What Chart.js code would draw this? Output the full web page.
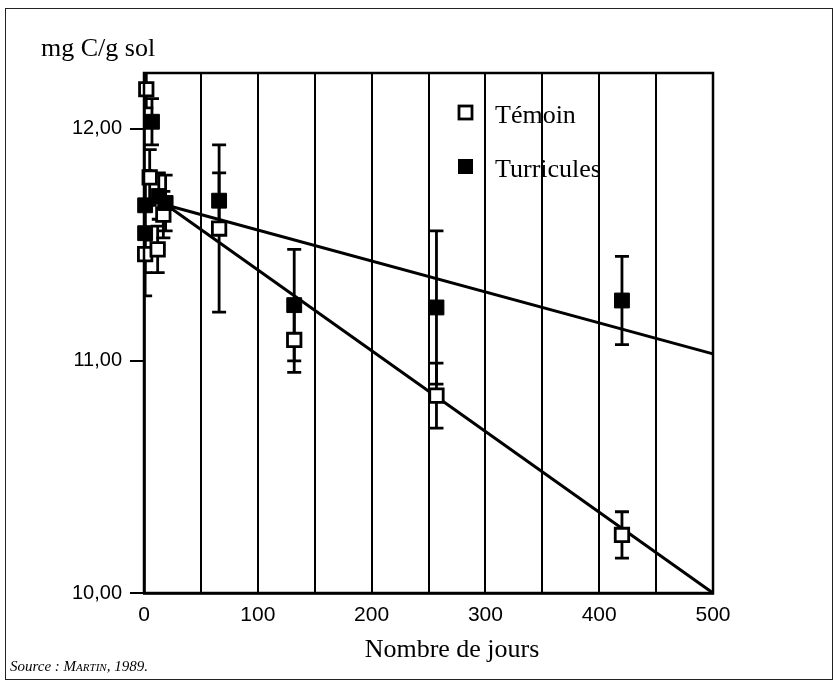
<!DOCTYPE html>
<html>
<head>
<meta charset="utf-8">
<script src="https://cdn.jsdelivr.net/npm/chart.js@4.4.1/dist/chart.umd.min.js"></script>
<style>
html, body { margin: 0; background: #fff; }
#cadre { position: absolute; left: 5px; top: 8px; width: 826px; height: 670px; border: 1.5px solid #222; }
#grafico { position: absolute; left: 0; top: 0; }
</style>
</head>
<body>
<div id="cadre"></div>
<canvas id="grafico" width="835" height="686"></canvas>
<script>
//--------------------------------------------------
// DONNÉES
//--------------------------------------------------
const joursTemoin = [2, 1, 5, 12, 17, 66, 132, 257, 420];
const valTemoin   = [12.17, 11.46, 11.79, 11.48, 11.63, 11.57, 11.09, 10.85, 10.25];
const errTemoin   = [0.08, 0.08, 0.12, 0.10, 0.10, 0.36, 0.14, 0.14, 0.10];

const joursTurr = [1, 7, 1, 13, 19, 66, 132, 257, 420];
const valTurr   = [11.67, 12.03, 11.55, 11.71, 11.68, 11.69, 11.24, 11.23, 11.26];
const errTurr   = [0.15, 0.10, 0.27, 0.10, 0.12, 0.12, 0.24, 0.33, 0.19];

// droites de régression
const droiteJours  = [20, 500];
const droiteTemoin = [11.67, 10.00];
const droiteTurr   = [11.67, 11.03];

const xTicks = [0, 50, 100, 150, 200, 250, 300, 350, 400, 450, 500];
const yTicks = [10, 11, 12];

const pts = (xs, ys) => xs.map((x, i) => ({ x: x, y: ys[i] }));

//--------------------------------------------------
// PLUGIN : barres d'erreur, cadre, textes
//--------------------------------------------------
const barresErreur = {
    id: "barresErreur",
    beforeDatasetsDraw(chart) {
        const ctx = chart.ctx;
        const a = chart.chartArea;
        const ys = chart.scales.y;
        ctx.save();
        ctx.beginPath();
        ctx.rect(a.left, a.top - 1, a.right - a.left, a.bottom - a.top + 2);
        ctx.clip();
        ctx.strokeStyle = "#000";
        ctx.lineWidth = 2.8;
        chart.data.datasets.forEach((ds, i) => {
            if (!ds.erreurs) return;
            const meta = chart.getDatasetMeta(i);
            meta.data.forEach((el, j) => {
                const v = ds.data[j].y, e = ds.erreurs[j];
                const yh = ys.getPixelForValue(v + e);
                const yb = ys.getPixelForValue(v - e);
                ctx.beginPath();
                ctx.moveTo(el.x, yh); ctx.lineTo(el.x, yb);
                ctx.moveTo(el.x - 7, yh); ctx.lineTo(el.x + 7, yh);
                ctx.moveTo(el.x - 7, yb); ctx.lineTo(el.x + 7, yb);
                ctx.stroke();
            });
        });
        ctx.restore();
    },
    afterDraw(chart) {
        const ctx = chart.ctx;
        const a = chart.chartArea;
        ctx.save();
        // cadre du graphique
        ctx.strokeStyle = "#000";
        ctx.lineWidth = 2.5;
        ctx.strokeRect(a.left, a.top, a.right - a.left, a.bottom - a.top);

        // textes
        ctx.fillStyle = "#000";
        ctx.textBaseline = "alphabetic";
        ctx.textAlign = "left";
        ctx.font = "26px 'Liberation Serif'";
        ctx.fillText("mg C/g sol", 41, 56);

        ctx.textAlign = "center";
        ctx.fillText("Nombre de jours", 452, 657);

        // légende
        ctx.textAlign = "left";
        ctx.fillText("Témoin", 495, 123);
        ctx.fillText("Turricules", 495, 177);
        ctx.lineWidth = 2.8;
        ctx.fillStyle = "#fff";
        ctx.fillRect(459, 106, 13, 13);
        ctx.strokeRect(459, 106, 13, 13);
        ctx.fillStyle = "#000";
        ctx.fillRect(458, 159, 15, 15);

        // source
        ctx.font = "italic 15px 'Liberation Serif'";
        let x = 10;
        ctx.fillText("Source : ", x, 671);
        x += ctx.measureText("Source : ").width;
        ctx.fillText("M", x, 671);
        x += ctx.measureText("M").width;
        ctx.font = "italic 11px 'Liberation Serif'";
        ctx.fillText("ARTIN", x, 671);
        x += ctx.measureText("ARTIN").width;
        ctx.font = "italic 15px 'Liberation Serif'";
        ctx.fillText(", 1989.", x, 671);
        ctx.restore();
    }
};

//--------------------------------------------------
// GRAPHIQUE
//--------------------------------------------------
new Chart(document.getElementById("grafico"), {
    type: "scatter",
    data: {
        datasets: [
            {
                label: "droite Témoin",
                type: "line",
                data: pts(droiteJours, droiteTemoin),
                borderColor: "#000",
                borderWidth: 3,
                pointRadius: 0,
                order: 3
            },
            {
                label: "droite Turricules",
                type: "line",
                data: pts(droiteJours, droiteTurr),
                borderColor: "#000",
                borderWidth: 3,
                pointRadius: 0,
                order: 3
            },
            {
                label: "Témoin",
                data: pts(joursTemoin, valTemoin),
                erreurs: errTemoin,
                pointStyle: "rect",
                pointRadius: 9.5,
                pointBackgroundColor: "#fff",
                pointBorderColor: "#000",
                pointBorderWidth: 2.8,
                order: 2
            },
            {
                label: "Turricules",
                data: pts(joursTurr, valTurr),
                erreurs: errTurr,
                pointStyle: "rect",
                pointRadius: 10.5,
                pointBackgroundColor: "#000",
                pointBorderColor: "#000",
                pointBorderWidth: 1,
                order: 1
            }
        ]
    },
    options: {
        responsive: false,
        animation: false,
        clip: false,
        layout: { padding: { left: 0, right: 122, top: 73, bottom: 0 } },
        plugins: {
            legend: { display: false },
            tooltip: { enabled: false }
        },
        scales: {
            x: {
                type: "linear",
                min: 0,
                max: 500,
                afterBuildTicks: s => { s.ticks = xTicks.map(v => ({ value: v })); },
                afterFit: s => { s.height = 93; },
                grid: { color: "#000", lineWidth: 2, drawTicks: false },
                border: { color: "#000", width: 2.8 },
                ticks: {
                    autoSkip: false,
                    maxRotation: 0,
                    padding: 10,
                    color: "#000",
                    font: { family: "Liberation Sans", size: 21 },
                    callback: v => (v % 100 === 0 ? String(v) : "")
                }
            },
            y: {
                type: "linear",
                min: 10,
                max: 12.24,
                afterBuildTicks: s => { s.ticks = yTicks.map(v => ({ value: v })); },
                afterFit: s => { s.width = 144; },
                grid: { drawOnChartArea: false, color: "#000", lineWidth: 2, tickLength: 14 },
                border: { color: "#000", width: 2.8 },
                ticks: {
                    padding: 8,
                    color: "#000",
                    font: { family: "Liberation Sans", size: 20 },
                    callback: v => v.toFixed(2).replace(".", ",")
                }
            }
        }
    },
    plugins: [barresErreur]
});
</script>
</body>
</html>
